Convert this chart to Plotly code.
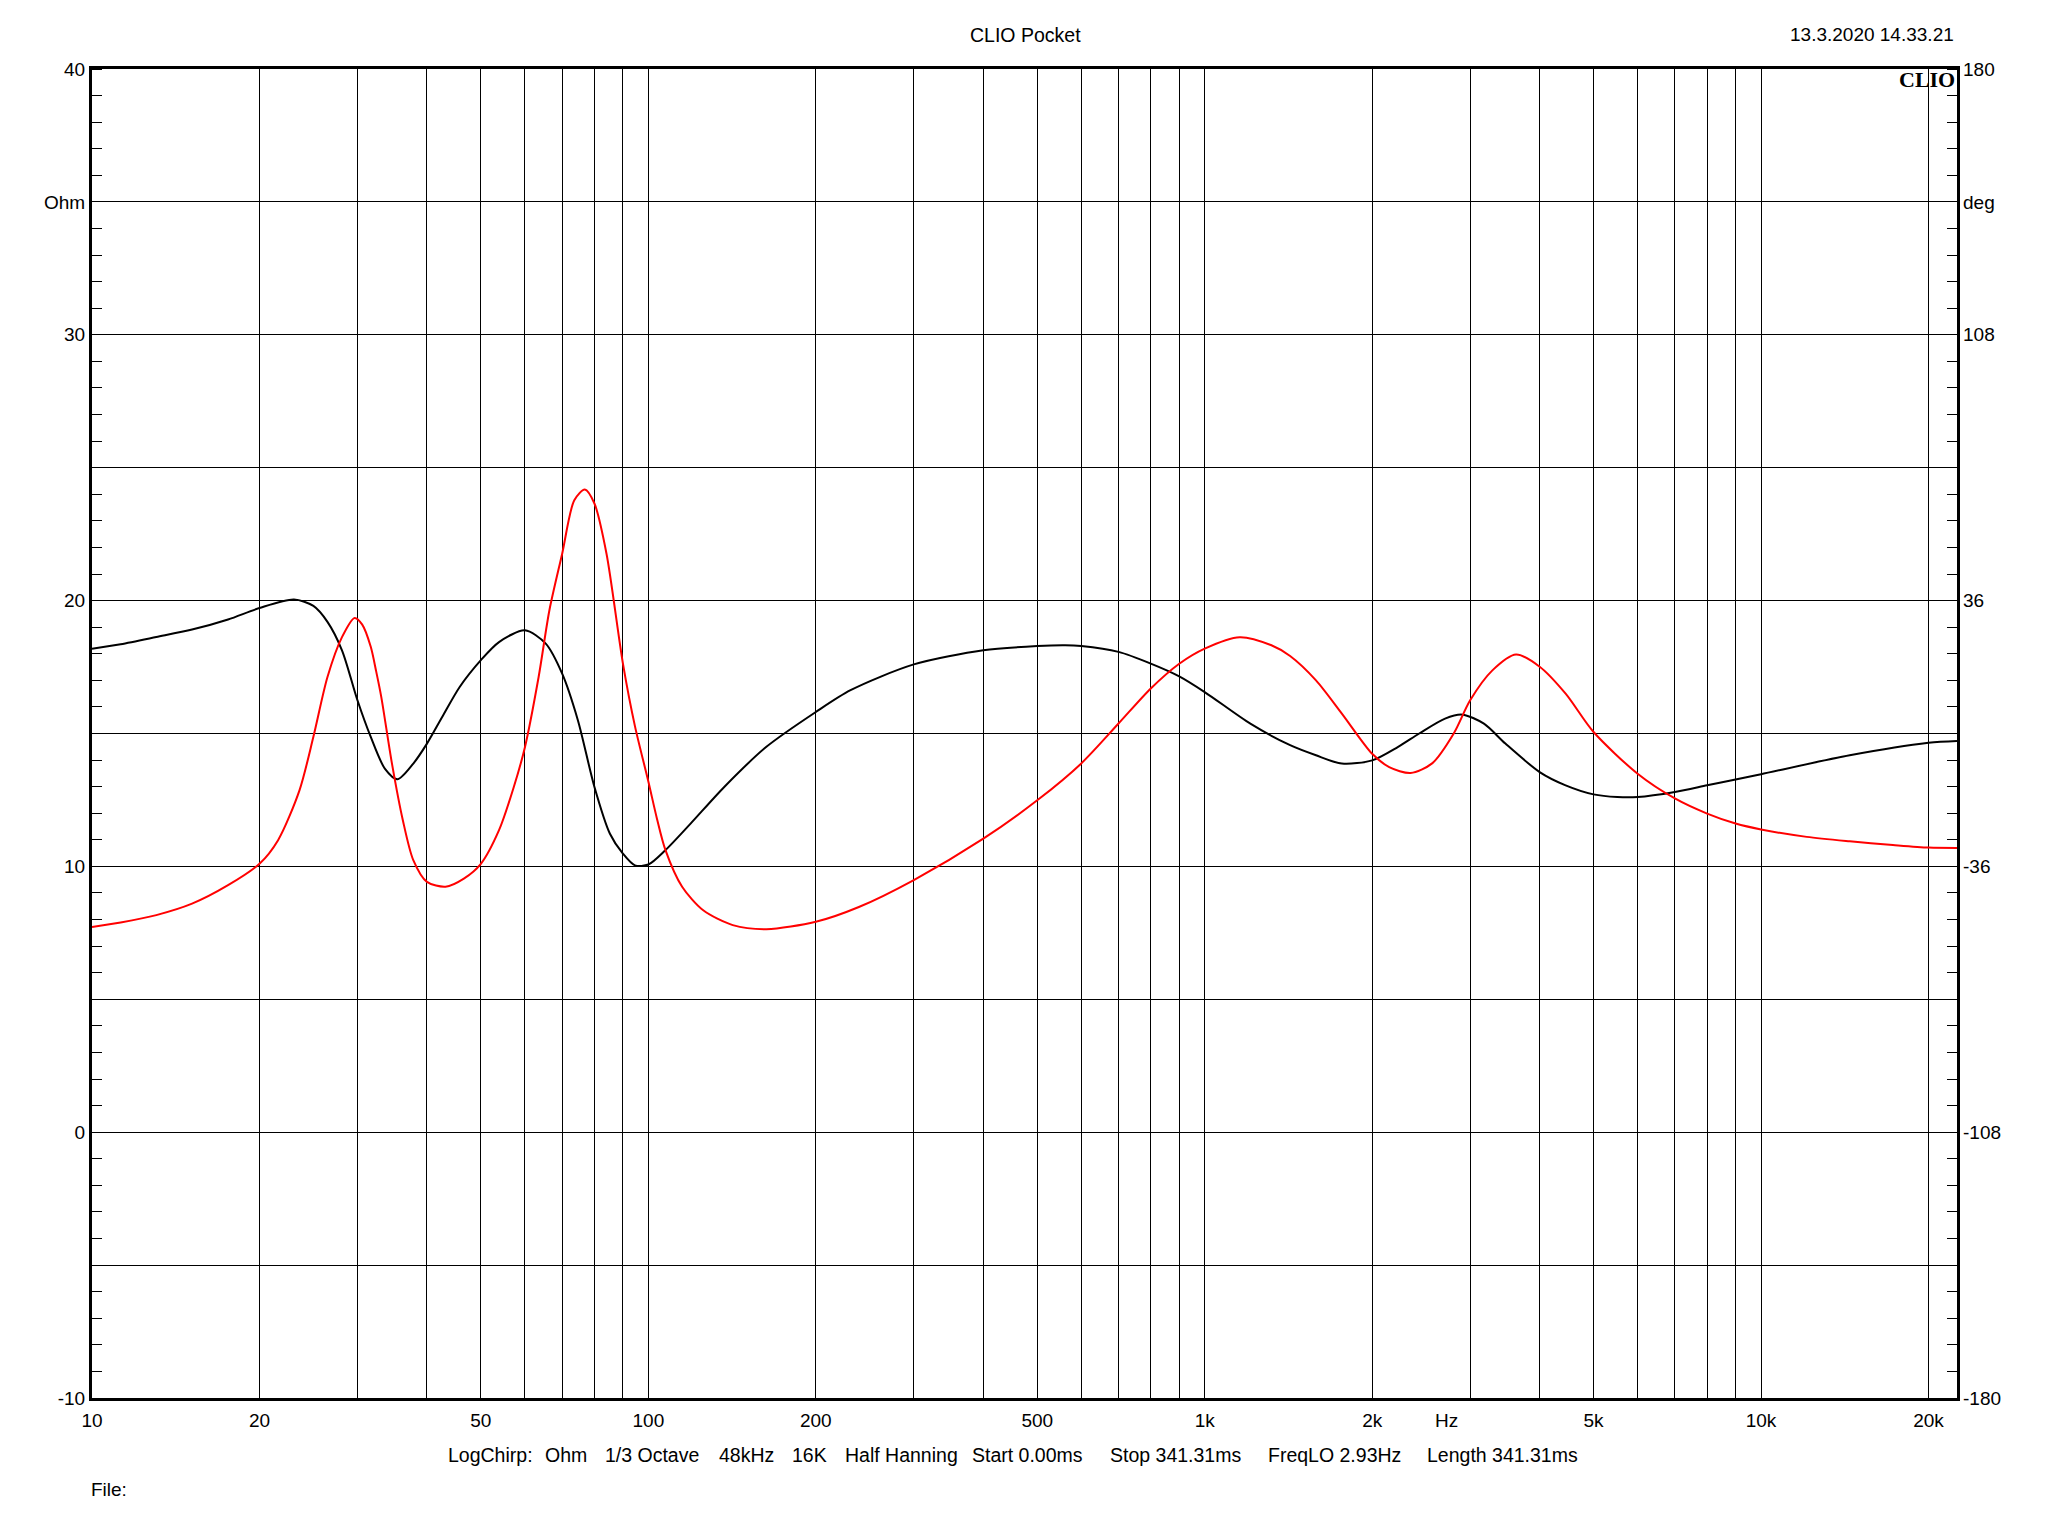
import plotly.graph_objects as go

# ---------------- data ----------------
imp_freq = [10, 11.26, 13.05, 15.13, 17.56, 20, 23.07, 25.0, 26.5, 28.14, 30, 31.7, 33.6, 35.4,
            37.8, 40, 42.6, 45.8, 50, 53.9, 60, 65.4, 70, 74.7, 80, 85.3, 90, 94.6, 100, 107.3,
            119.1, 136.9, 163, 200, 230.9, 300, 400, 500, 561, 600, 700, 800, 900, 1000, 1208,
            1424, 1585, 1764, 2000, 2223, 2430, 2704, 2904, 3176, 3471, 4000, 4454, 5000, 5516,
            6000, 7000, 8000, 9000, 10000, 14435, 20000, 22500]
imp_ohm = [18.19, 18.36, 18.63, 18.91, 19.29, 19.72, 20.04, 19.8, 19.2, 18.13, 16.25, 14.87,
           13.68, 13.28, 13.87, 14.62, 15.62, 16.75, 17.76, 18.44, 18.88, 18.38, 17.25, 15.5,
           12.99, 11.23, 10.48, 10.04, 10.07, 10.61, 11.61, 12.99, 14.5, 15.81, 16.63, 17.6,
           18.13, 18.29, 18.32, 18.29, 18.07, 17.63, 17.15, 16.56, 15.37, 14.56, 14.18, 13.87,
           13.99, 14.49, 15.0, 15.56, 15.71, 15.37, 14.62, 13.55, 13.05, 12.71, 12.61, 12.61,
           12.8, 13.05, 13.27, 13.47, 14.18, 14.65, 14.72]

phase_freq = [10, 11.26, 13.05, 15.13, 17.56, 20, 21.6, 23.6, 25.0, 26.5, 28.14, 29.65, 30.6,
              31.7, 32.4, 33.1, 34.6, 36.2, 37.8, 40, 43.2, 46.6, 50, 53.9, 57.3, 60, 63.5,
              66.4, 70, 73.6, 76.9, 80, 84.1, 90, 94.6, 100, 103.6, 107.3, 115, 125.5, 141.8,
              163, 200, 239, 300, 400, 500, 600, 700, 800, 900, 1000, 1156, 1318, 1424, 1585,
              1764, 2000, 2146, 2345, 2563, 2803, 3000, 3289, 3628, 4000, 4454, 5000, 6000,
              7000, 8000, 9000, 10000, 12080, 14435, 17260, 20000, 22500]
phase_deg = [-52.4, -51.2, -49.2, -46.1, -41.1, -35.3, -28.9, -15.4, -0.9, 15.3, 26.1, 31.3,
             29.5, 23.5, 17.0, 10.0, -8.1, -23.5, -34.3, -40.2, -41.5, -39.3, -35.3, -26.2,
             -14.5, -3.7, 15.3, 33.4, 48.7, 63.2, 66.1, 62.3, 48.7, 19.0, 2.0, -13.0, -23.0,
             -31.5, -41.5, -47.9, -51.9, -53.0, -51.0, -47.0, -39.7, -28.5, -18.1, -8.1, 2.7,
             12.2, 18.9, 23.0, 26.1, 23.9, 21.0, 14.4, 5.4, -5.5, -9.1, -10.7, -8.1, 0.0, 9.0,
             17.1, 21.4, 18.1, 10.8, 0.4, -10.9, -17.6, -21.7, -24.4, -26.0, -28.0, -29.2,
             -30.2, -30.9, -31.0]

x_tick_vals = [10, 20, 30, 40, 50, 60, 70, 80, 90, 100, 200, 300, 400, 500, 600, 700, 800, 900,
               1000, 2000, 3000, 4000, 5000, 6000, 7000, 8000, 9000, 10000, 20000]
x_tick_text = ["10", "20", "", "", "50", "", "", "", "", "100", "200", "", "", "500", "", "",
               "", "", "1k", "2k", "", "", "5k", "", "", "", "", "10k", "20k"]
x_unit_text = "Hz"
y_tick_vals = [-10, -5, 0, 5, 10, 15, 20, 25, 30, 35, 40]
y_tick_text = ["-10", "", "0", "", "10", "", "20", "", "30", "Ohm", "40"]
y2_tick_vals = [-180, -144, -108, -72, -36, 0, 36, 72, 108, 144, 180]
y2_tick_text = ["-180", "", "-108", "", "-36", "", "36", "", "108", "deg", "180"]

title_text = "CLIO Pocket"
date_text = "13.3.2020 14.33.21"
info_items = ["LogChirp:", "Ohm", "1/3 Octave", "48kHz", "16K", "Half Hanning",
              "Start 0.00ms", "Stop 341.31ms", "FreqLO 2.93Hz", "Length 341.31ms"]
info_x_px = [446, 543, 603, 717, 790, 843, 970, 1108, 1266, 1425]

# ---------------- layout geometry (pixels) ----------------
W, H = 2048, 1536
PL, PR, PT, PB = 92, 1957, 69, 1398
FONT = "Liberation Sans, Arial, sans-serif"


def fx(px):
    return (px - PL) / (PR - PL)


def fy(py):
    return (PB - py) / (PB - PT)


fig = go.Figure()
fig.add_trace(go.Scatter(x=imp_freq, y=imp_ohm, mode="lines",
                         line=dict(color="#000000", width=2, shape="spline", smoothing=0.8),
                         yaxis="y", showlegend=False, hoverinfo="skip"))
fig.add_trace(go.Scatter(x=phase_freq, y=phase_deg, mode="lines",
                         line=dict(color="#ff0000", width=2, shape="spline", smoothing=0.8),
                         yaxis="y2", showlegend=False, hoverinfo="skip"))

axis_font = dict(family=FONT, size=19, color="black")

fig.update_layout(
    width=W, height=H,
    margin=dict(l=PL, r=W - PR, t=PT, b=H - PB, pad=0),
    paper_bgcolor="white", plot_bgcolor="white",
    xaxis=dict(type="log", range=[1, 4.3522], tickvals=x_tick_vals, ticktext=x_tick_text,
               showgrid=True, gridcolor="black", gridwidth=1, zeroline=False,
               showline=True, linecolor="black", linewidth=3, mirror=True,
               ticks="", tickfont=axis_font, tickangle=0, ticklabelstandoff=3),
    yaxis=dict(range=[-10, 40], tickvals=y_tick_vals, ticktext=y_tick_text,
               showgrid=True, gridcolor="black", gridwidth=1, zeroline=False,
               showline=True, linecolor="black", linewidth=3, mirror=True,
               ticks="", tickfont=axis_font,
               minor=dict(dtick=1, tick0=0, ticks="inside", ticklen=10, tickcolor="black",
                          tickwidth=1, showgrid=False)),
    yaxis2=dict(range=[-180, 180], tickvals=y2_tick_vals, ticktext=y2_tick_text,
                overlaying="y", side="right", showgrid=False, zeroline=False,
                showline=False, ticks="", tickfont=axis_font, ticklabelstandoff=5,
                minor=dict(dtick=7.2, tick0=-180, ticks="inside", ticklen=10,
                           tickcolor="black", tickwidth=1, showgrid=False)),
)

ann = []
ann.append(dict(text=title_text, x=fx(1025), y=fy(35), xref="paper", yref="paper",
                xanchor="center", yanchor="middle", showarrow=False,
                font=dict(family=FONT, size=19.5, color="black")))
ann.append(dict(text=date_text, x=fx(1956), y=fy(35), xref="paper", yref="paper",
                xanchor="right", yanchor="middle", showarrow=False,
                font=dict(family=FONT, size=19, color="black")))
ann.append(dict(text="<b>CLIO</b>", x=fx(1957), y=fy(79), xref="paper", yref="paper",
                xanchor="right", yanchor="middle", showarrow=False,
                font=dict(family="Liberation Serif, DejaVu Serif, serif", size=22,
                          color="black")))
ann.append(dict(text=x_unit_text, x=fx(1446), y=fy(1420), xref="paper", yref="paper",
                xanchor="center", yanchor="middle", showarrow=False,
                font=dict(family=FONT, size=19, color="black")))
for t, px in zip(info_items, info_x_px):
    ann.append(dict(text=t, x=fx(px), y=fy(1455), xref="paper", yref="paper",
                    xanchor="left", yanchor="middle", showarrow=False,
                    font=dict(family=FONT, size=19.5, color="black")))
ann.append(dict(text="File:", x=fx(89), y=fy(1489), xref="paper", yref="paper",
                xanchor="left", yanchor="middle", showarrow=False,
                font=dict(family=FONT, size=19, color="black")))
fig.update_layout(annotations=ann)

fig.write_html("out.html", config={"displayModeBar": False},
               post_script="document.body.style.margin='0';")
